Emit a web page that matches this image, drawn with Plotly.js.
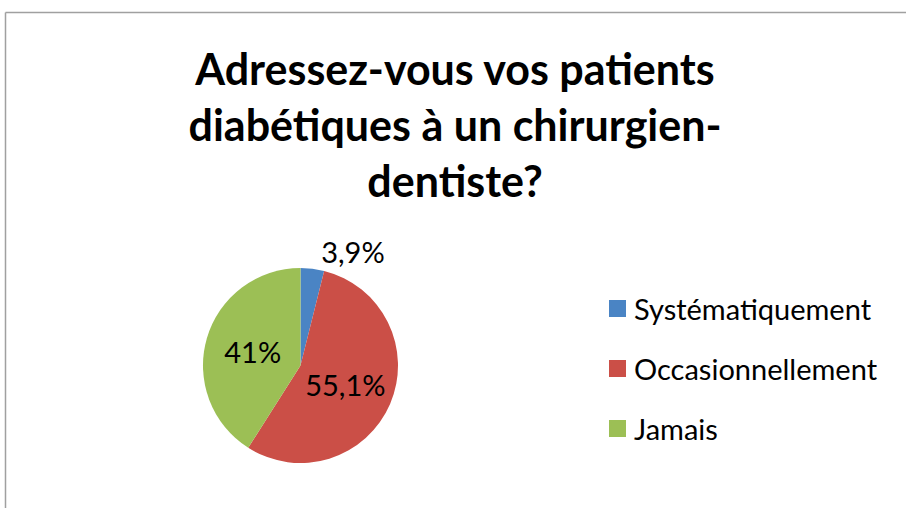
<!DOCTYPE html>
<html>
<head>
<meta charset="utf-8">
<script src="https://cdn.plot.ly/plotly-3.0.1.min.js"></script>
<style>html,body{margin:0;padding:0;background:#fff;}#chart{width:906px;height:508px;}</style>
</head>
<body>
<div id="chart"></div>
<script>
var categories = ["Systématiquement", "Occasionnellement", "Jamais"];
var values = [3.9, 55.1, 41];
var valueLabels = ["3,9%", "55,1%", "41%"];
var sliceColors = ["#4A84C4", "#CB4F47", "#9CBF55"];
var titleText = "Adressez-vous vos patients<br>diabétiques à un chirurgien-<br>dentiste?";

var W = 906, H = 508;
var font = "Lato, 'Open Sans', 'Liberation Sans', sans-serif";

var trace = {
  type: "pie",
  labels: categories,
  values: values,
  text: valueLabels,
  texttemplate: "%{text}",
  textinfo: "text",
  textposition: ["outside", "inside", "inside"],
  insidetextorientation: "horizontal",
  textfont: {family: font, size: 29, color: "#000"},
  outsidetextfont: {family: font, size: 29, color: "#000"},
  insidetextfont: {family: font, size: 29, color: "#000"},
  marker: {colors: sliceColors, line: {width: 0}},
  sort: false,
  direction: "clockwise",
  rotation: 0,
  showlegend: false,
  hoverinfo: "label+percent",
  domain: {x: [203 / W, 398 / W], y: [(H - 463) / H, (H - 268) / H]}
};

var shapes = [
  {type: "line", xref: "paper", yref: "paper", x0: 5.5 / W, x1: 5.5 / W, y0: 0, y1: (H - 12.5) / H, line: {color: "#A0A0A0", width: 1.5}},
  {type: "line", xref: "paper", yref: "paper", x0: 5.5 / W, x1: 1, y0: (H - 12.5) / H, y1: (H - 12.5) / H, line: {color: "#A0A0A0", width: 1.5}}
];
var annotations = [];
var legendRowsY = [308, 368, 428];
categories.forEach(function (c, i) {
  var yc = legendRowsY[i];
  shapes.push({type: "rect", xref: "paper", yref: "paper",
    x0: 609 / W, x1: 626 / W, y0: (H - yc - 9) / H, y1: (H - yc + 8) / H,
    fillcolor: sliceColors[i], line: {width: 0}});
  annotations.push({xref: "paper", yref: "paper", x: 632 / W, y: (H - yc) / H,
    xanchor: "left", yanchor: "middle", showarrow: false, text: c,
    font: {family: font, size: 29, color: "#000"}});
});

var layout = {
  width: W, height: H,
  margin: {l: 0, r: 0, t: 0, b: 0},
  paper_bgcolor: "#fff",
  title: {text: titleText, x: 455 / W, xanchor: "center", y: (H - 85) / H, yanchor: "top",
    font: {family: font, size: 43, color: "#000", weight: "bold"}},
  shapes: shapes,
  annotations: annotations,
  showlegend: false
};

Plotly.newPlot("chart", [trace], layout, {displayModeBar: false, staticPlot: true});
</script>
</body>
</html>
